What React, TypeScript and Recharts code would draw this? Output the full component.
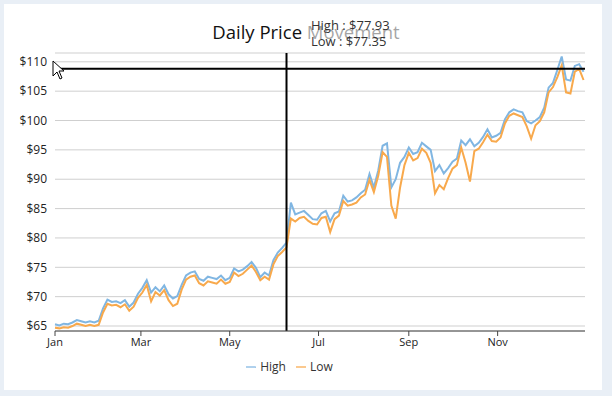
import { CartesianGrid, Legend, Line, LineChart, ReferenceLine, XAxis, YAxis } from "recharts";

// day of year (0 = Jan 1), sampled every third day
const DAYS = [
  0, 3, 6, 9, 12, 15, 18, 21, 24, 27, 30, 33, 36, 39, 42, 45, 48, 51, 54, 57,
  60, 63, 66, 69, 72, 75, 78, 81, 84, 87, 90, 93, 96, 99, 102, 105, 108, 111, 114, 117,
  120, 123, 126, 129, 132, 135, 138, 141, 144, 147, 150, 153, 156, 159, 162, 165, 168, 171, 174, 177,
  180, 183, 186, 189, 192, 195, 198, 201, 204, 207, 210, 213, 216, 219, 222, 225, 228, 231, 234, 237,
  240, 243, 246, 249, 252, 255, 258, 261, 264, 267, 270, 273, 276, 279, 282, 285, 288, 291, 294, 297,
  300, 303, 306, 309, 312, 315, 318, 321, 324, 327, 330, 333, 336, 339, 342, 345, 348, 351, 354, 357,
  360, 363,
];

const HIGH = [
  65.3, 65.1, 65.4, 65.3, 65.6, 66.0, 65.8, 65.6, 65.8, 65.6,
  65.9, 68.0, 69.5, 69.1, 69.2, 68.9, 69.4, 68.3, 69.0, 70.5,
  71.5, 72.8, 70.7, 71.6, 70.9, 71.9, 70.4, 69.7, 70.1, 72.0,
  73.6, 74.1, 74.3, 73.0, 72.7, 73.4, 73.2, 73.0, 73.6, 72.8,
  73.2, 74.8, 74.3, 74.6, 75.2, 75.9, 74.9, 73.3, 74.1, 73.6,
  76.2, 77.5, 78.3, 79.2, 86.0, 84.0, 84.3, 84.6, 83.9, 83.2,
  83.1, 84.2, 84.6, 82.8, 84.2, 84.5, 87.2, 86.2, 86.4, 86.9,
  87.6, 88.2, 90.9, 88.6, 91.5, 95.7, 96.1, 88.6, 90.0, 92.8,
  93.8, 95.4, 94.3, 94.6, 96.2, 95.6, 95.0, 91.4, 92.4, 91.0,
  91.9, 93.0, 93.5, 96.6, 95.8, 96.8, 95.6, 96.2, 97.2, 98.5,
  97.1, 97.4, 97.9, 100.2, 101.4, 101.9, 101.6, 101.4, 99.9, 99.5,
  100.0, 100.6, 102.2, 105.6, 106.4, 108.6, 110.9, 107.0, 106.8, 109.3,
  109.6, 108.3,
];

const LOW = [
  64.7, 64.6, 64.8, 64.7, 65.0, 65.4, 65.2, 65.0, 65.2, 65.0,
  65.2, 67.3, 68.8, 68.5, 68.6, 68.2, 68.7, 67.6, 68.3, 69.8,
  70.7, 72.0, 69.2, 70.8, 70.2, 71.1, 69.4, 68.4, 68.8, 71.2,
  72.9, 73.4, 73.6, 72.3, 71.9, 72.6, 72.4, 72.2, 72.9, 72.2,
  72.5, 74.1, 73.5, 73.9, 74.6, 75.3, 74.2, 72.8, 73.4, 72.9,
  75.5, 76.9, 77.6, 78.4, 83.3, 82.8, 83.4, 83.6, 82.9, 82.4,
  82.3, 83.4, 83.6, 81.0, 83.2, 83.8, 86.3, 85.5, 85.7, 86.0,
  86.9, 87.4, 89.9, 87.8, 90.6, 94.6, 93.8, 85.5, 83.3, 88.6,
  92.4, 94.5, 93.2, 93.6, 95.2, 94.5, 92.8, 87.6, 89.0, 88.3,
  90.2, 91.8, 92.4, 95.4, 92.8, 89.6, 94.8, 95.2, 96.3, 97.6,
  96.5, 96.4, 97.1, 99.5, 100.8, 101.2, 100.9, 100.6, 99.0, 96.9,
  99.2, 99.9, 101.4, 104.8, 105.7, 107.4, 109.4, 104.8, 104.6, 108.3,
  108.8, 106.9,
];

const MONTH_TICKS = [0, 59, 120, 181, 243, 304];
const MONTH_LABELS = ["Jan", "Mar", "May", "Jul", "Sep", "Nov"];
const PRICE_TICKS = [65, 70, 75, 80, 85, 90, 95, 100, 105, 110];

// crosshair / tooltip state captured in the screenshot
const CROSS_DAY = 159;
const CROSS_PRICE = 108.8;
const TIP_HIGH = 77.93;
const TIP_LOW = 77.35;

const FONT = "'Open Sans', 'Noto Sans', sans-serif";

const data = DAYS.map((day, i) => ({ day, high: HIGH[i], low: LOW[i] }));

export default function App() {
  return (
    <div
      style={{
        position: "absolute",
        left: 0,
        top: 0,
        width: 612,
        height: 396,
        background: "#e9eff6",
        fontFamily: FONT,
      }}
    >
      <div
        style={{
          position: "absolute",
          left: 4,
          top: 4,
          width: 598,
          height: 386,
          background: "#fff",
        }}
      >
        <LineChart
          width={596}
          height={386}
          data={data}
          margin={{ top: 49, right: 15, left: 0, bottom: 14 }}
        >
          <CartesianGrid vertical={false} stroke="#cfcfcf" />
          <XAxis
            dataKey="day"
            type="number"
            domain={[0, 364]}
            ticks={MONTH_TICKS}
            tickFormatter={(v) => MONTH_LABELS[MONTH_TICKS.indexOf(v)] ?? ""}
            tick={{ fill: "#222", fontSize: 11 }}
            stroke="#444"
            tickSize={5}
            height={23}
          />
          <YAxis
            type="number"
            domain={[64.15, 111.5]}
            ticks={PRICE_TICKS}
            tickFormatter={(v) => `$${v}`}
            tick={{ fill: "#222", fontSize: 12 }}
            axisLine={false}
            tickLine={false}
            width={51}
            allowDataOverflow
          />
          <Line
            type="linear"
            dataKey="high"
            name="High"
            stroke="#80b6e2"
            strokeWidth={2}
            dot={false}
            activeDot={false}
            isAnimationActive={false}
          />
          <Line
            type="linear"
            dataKey="low"
            name="Low"
            stroke="#f8a94c"
            strokeWidth={2}
            dot={false}
            activeDot={false}
            isAnimationActive={false}
          />
          <ReferenceLine x={CROSS_DAY} stroke="#000" strokeWidth={2} />
          <ReferenceLine y={CROSS_PRICE} stroke="#000" strokeWidth={2} />
          <Legend
            verticalAlign="bottom"
            iconType="plainline"
            iconSize={10}
            formatter={(value) => (
              <span style={{ color: "#333", fontSize: 12 }}>{value}</span>
            )}
          />
        </LineChart>
      </div>

      <div
        style={{
          position: "absolute",
          left: 0,
          top: 19,
          width: 612,
          textAlign: "center",
          fontSize: 18.5,
          color: "#111",
        }}
      >
        Daily Price Movement
      </div>

      <div
        style={{
          position: "absolute",
          left: 303,
          top: 14,
          width: 98,
          height: 38,
          background: "rgba(255,255,255,0.62)",
          color: "#333",
          fontSize: 13,
          lineHeight: "16px",
          paddingLeft: 8,
          boxSizing: "border-box",
          paddingTop: 3,
        }}
      >
        <div>High : ${TIP_HIGH.toFixed(2)}</div>
        <div>Low : ${TIP_LOW.toFixed(2)}</div>
      </div>

      <svg
        width={14}
        height={22}
        style={{ position: "absolute", left: 52, top: 60 }}
      >
        <path
          d="M1,1 L1,16 L5,12 L8,19 L10,18 L7,11 L12,11 Z"
          fill="#fff"
          stroke="#000"
          strokeWidth={1}
        />
      </svg>
    </div>
  );
}
